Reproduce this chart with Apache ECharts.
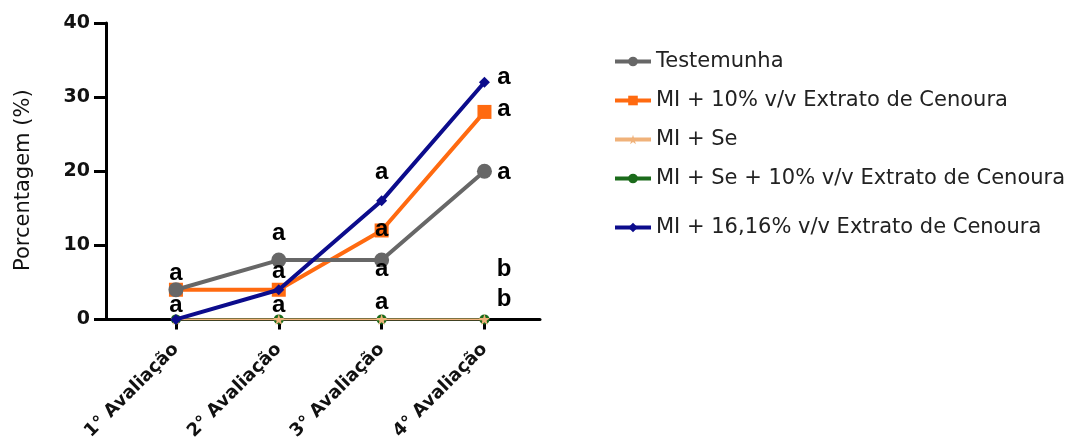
<!DOCTYPE html>
<html><head><meta charset="utf-8">
<script src="https://cdn.jsdelivr.net/npm/echarts@6/dist/echarts.min.js"></script>
<style>html,body{margin:0;padding:0;background:#fff}#c{width:1075px;height:443px}</style>
</head><body><div id="c"></div>
<script>
const categories = ['1° Avaliação', '2° Avaliação', '3° Avaliação', '4° Avaliação'];
const seriesNames = ['Testemunha', 'MI + 10% v/v Extrato de Cenoura', 'MI + Se', 'MI + Se + 10% v/v Extrato de Cenoura', 'MI + 16,16% v/v Extrato de Cenoura'];
const testemunha = [4, 8, 8, 20];
const mi10 = [4, 4, 12, 28];
const miSe = [0, 0, 0, 0];
const miSe10 = [0, 0, 0, 0];
const mi1616 = [0, 4, 16, 32];
const yTicks = [0, 10, 20, 30, 40];
// significance letters: [category index (offset), y value, letter]
const letters = [
  [0, 6.2, 'a'], [0, 1.9, 'a'],
  [1, 11.6, 'a'], [1, 6.5, 'a'], [1, 1.9, 'a'],
  [2, 19.9, 'a'], [2, 12.1, 'a'], [2, 6.7, 'a'], [2, 2.3, 'a'],
  [3.19, 32.7, 'a'], [3.19, 28.3, 'a'], [3.19, 19.9, 'a'], [3.19, 6.7, 'b'], [3.19, 2.7, 'b']
];

const star = 'path://M50,0 L61,35 L98,35 L68,57 L79,91 L50,70 L21,91 L32,57 L2,35 L39,35 Z';
const toXY = arr => arr.map((v, i) => [i, v]);
const F = '"DejaVu Sans", Verdana, sans-serif';
const FA = '"Liberation Sans", Arial, sans-serif';

const chart = echarts.init(document.getElementById('c'));
chart.setOption({
  animation: false,
  textStyle: { fontFamily: F },
  grid: { left: 106, right: 535, top: 23, bottom: 123, containLabel: false },
  xAxis: {
    type: 'value', min: -0.68, max: 3.54,
    splitLine: { show: false },
    axisLine: { show: true, onZero: false, lineStyle: { color: '#000', width: 3 } },
    axisTick: { show: true, customValues: [0, 1, 2, 3], length: 10, lineStyle: { color: '#000', width: 3 } },
    axisLabel: { customValues: [0, 1, 2, 3], formatter: v => categories[Math.round(v)], rotate: 45, fontSize: 18, fontWeight: 'bold', color: '#111', margin: 27, fontFamily: F }
  },
  yAxis: {
    type: 'value', min: 0, max: 40, interval: 10,
    name: 'Porcentagem (%)', nameLocation: 'middle', nameGap: 72, nameRotate: 90,
    nameTextStyle: { fontSize: 21, color: '#111', fontFamily: F, padding: [0, 18, 0, 0] },
    splitLine: { show: false },
    axisLine: { show: true, onZero: false, lineStyle: { color: '#000', width: 3 } },
    axisTick: { show: true, length: 12, lineStyle: { color: '#000', width: 3 } },
    axisLabel: { fontSize: 19, fontWeight: 'bold', color: '#111', margin: 16, fontFamily: F }
  },
  legend: [
    { orient: 'vertical', left: 608, top: 46, itemWidth: 36, itemHeight: 12, itemGap: 18,
      lineStyle: { width: 4 },
      textStyle: { fontSize: 21, color: '#222', fontFamily: F },
      data: seriesNames.slice(0, 4) },
    { orient: 'vertical', left: 608, top: 212, itemWidth: 36, itemHeight: 12,
      lineStyle: { width: 4 },
      textStyle: { fontSize: 21, color: '#222', fontFamily: F },
      data: seriesNames.slice(4) }
  ],
  series: [
    { name: seriesNames[3], type: 'line', data: toXY(miSe10), z: 3, symbol: 'circle', symbolSize: 10,
      lineStyle: { color: '#1b6b1b', width: 2 }, itemStyle: { color: '#1b6b1b' } },
    { name: seriesNames[2], type: 'line', data: toXY(miSe), z: 4, symbol: star, symbolSize: 11,
      lineStyle: { color: '#f0b27a', width: 2 }, itemStyle: { color: '#f0b27a' } },
    { name: seriesNames[1], type: 'line', data: toXY(mi10), z: 5, symbol: 'rect', symbolSize: 14,
      lineStyle: { color: '#ff6a10', width: 4 }, itemStyle: { color: '#ff6a10' } },
    { name: seriesNames[0], type: 'line', data: toXY(testemunha), z: 6, symbol: 'circle', symbolSize: 15,
      lineStyle: { color: '#676767', width: 4 }, itemStyle: { color: '#676767' } },
    { name: seriesNames[4], type: 'line', data: toXY(mi1616), z: 7, symbol: 'diamond', symbolSize: 11,
      lineStyle: { color: '#0c0c8c', width: 4 }, itemStyle: { color: '#0c0c8c' } },
    { type: 'scatter', data: letters.map(l => [l[0], l[1], l[2]]), symbolSize: 0, z: 10, silent: true,
      itemStyle: { opacity: 1 },
      label: { show: true, position: 'inside', opacity: 1, formatter: p => p.value[2], fontSize: 24, fontWeight: 'bold', color: '#000', fontFamily: FA } }
  ]
});
</script></body></html>
